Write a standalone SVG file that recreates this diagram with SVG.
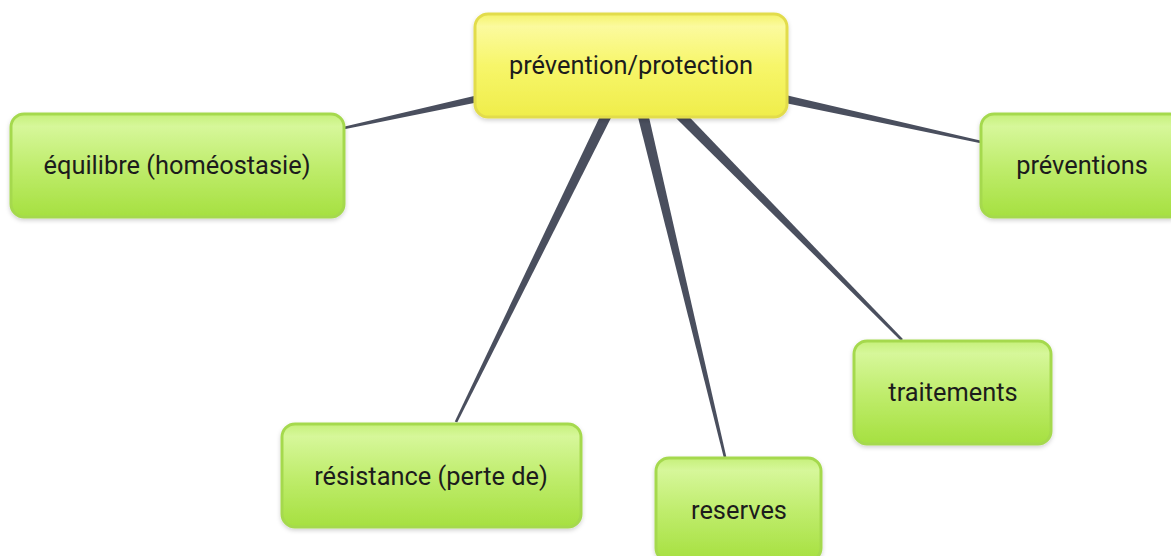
<svg xmlns="http://www.w3.org/2000/svg" width="1171" height="556" viewBox="0 0 1171 556">
<defs>
<linearGradient id="gGreen" x1="0" y1="0" x2="0" y2="1">
<stop offset="0" stop-color="#c6f07a"/>
<stop offset="0.12" stop-color="#d6f79a"/>
<stop offset="0.5" stop-color="#c0ed6e"/>
<stop offset="1" stop-color="#a6e040"/>
</linearGradient>
<linearGradient id="gYellow" x1="0" y1="0" x2="0" y2="1">
<stop offset="0" stop-color="#f4f36a"/>
<stop offset="0.12" stop-color="#fbfa9e"/>
<stop offset="0.5" stop-color="#f7f66a"/>
<stop offset="1" stop-color="#efed4a"/>
</linearGradient>
<filter id="sh" x="-10%" y="-10%" width="120%" height="130%">
<feDropShadow dx="0" dy="2" stdDeviation="2" flood-color="#000" flood-opacity="0.18"/>
</filter>
</defs>
<style>
.green{fill:url(#gGreen);stroke:#a5d94e;stroke-width:3;filter:url(#sh)}
.yellow{fill:url(#gYellow);stroke:#e2dc4c;stroke-width:3;filter:url(#sh)}
.lbl{font-family:Roboto,"Liberation Sans",sans-serif;font-size:25.4px;fill:#1c1c1c;text-anchor:middle}
.conn{fill:#4a4f5e}
</style>
<g id="connectors">
<polygon class="conn" points="629.7,59.1 343.7,126.7 344.3,129.3 632.3,70.9"/>
<polygon class="conn" points="632.3,59.1 981.3,140.7 980.7,143.3 629.7,70.9"/>
<polygon class="conn" points="625.6,62.4 454.8,421.4 457.2,422.6 636.4,67.6"/>
<polygon class="conn" points="625.2,66.4 723.7,457.3 726.3,456.7 636.8,63.6"/>
<polygon class="conn" points="635.3,60.8 902.9,339.1 901.1,340.9 626.7,69.2"/>
</g>
<g id="node-center">
<rect class="yellow" x="475" y="14" width="312" height="103" rx="13"/>
<text class="lbl" x="631" y="74">prévention/protection</text>
</g>
<g id="node-equilibre">
<rect class="green" x="11" y="114" width="333" height="103" rx="13"/>
<text class="lbl" x="177" y="174">équilibre (homéostasie)</text>
</g>
<g id="node-preventions">
<rect class="green" x="981" y="114" width="202" height="103" rx="13"/>
<text class="lbl" x="1082" y="174">préventions</text>
</g>
<g id="node-resistance">
<rect class="green" x="282" y="424" width="299" height="103" rx="13"/>
<text class="lbl" x="431" y="485">résistance (perte de)</text>
</g>
<g id="node-reserves">
<rect class="green" x="656" y="458" width="165" height="103" rx="13"/>
<text class="lbl" x="739" y="519">reserves</text>
</g>
<g id="node-traitements">
<rect class="green" x="854" y="341" width="197" height="103" rx="13"/>
<text class="lbl" x="953" y="401">traitements</text>
</g>
</svg>
